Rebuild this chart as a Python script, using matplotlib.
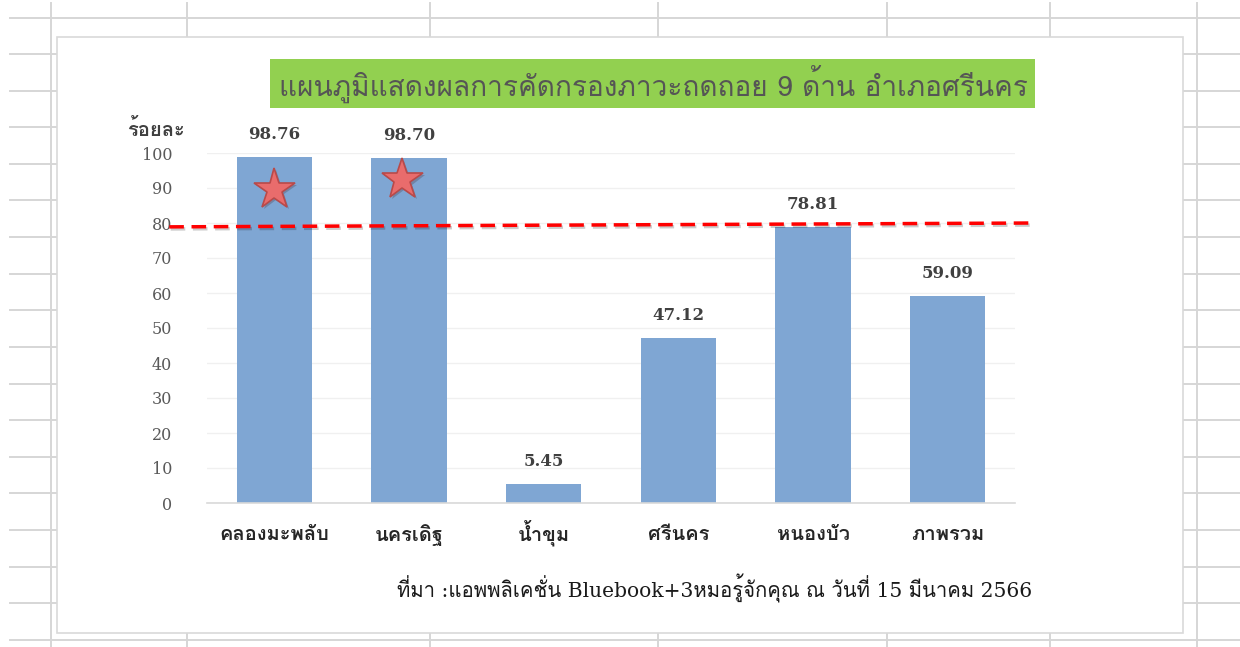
import matplotlib
matplotlib.use("Agg")
import matplotlib.pyplot as plt
from matplotlib import font_manager
from matplotlib.ft2font import FT2Font
from matplotlib.lines import Line2D
from matplotlib.patches import Rectangle
import matplotlib.patheffects as pe

# data
categories = ["คลองมะพลับ", "นครเดิฐ", "น้ำขุม", "ศรีนคร", "หนองบัว", "ภาพรวม"]
values = [98.76, 98.70, 5.45, 47.12, 78.81, 59.09]
yticks = [0, 10, 20, 30, 40, 50, 60, 70, 80, 90, 100]
star_x = [0, 0.95]
star_y = [89.5, 92.3]
threshold_x = [-0.78, 5.65]
threshold_y = [78.9, 80.0]
title = "แผนภูมิแสดงผลการคัดกรองภาวะถดถอย 9 ด้าน อำเภอศรีนคร"
ylabel = "ร้อยละ"
source = "ที่มา :แอพพลิเคชั่น Bluebook+3หมอรู้จักคุณ ณ วันที่ 15 มีนาคม 2566"


def find_thai_fonts():
    names = []
    for f in font_manager.fontManager.ttflist:
        try:
            cmap = FT2Font(f.fname).get_charmap()
        except Exception:
            continue
        if 0x0E01 in cmap and f.name not in names:
            names.append(f.name)
    return names


thai = find_thai_fonts()
thai_sans = thai + ["DejaVu Sans"]
thai_serif = ["DejaVu Serif"] + thai + ["DejaVu Sans"]

W, H = 1240, 647
fig = plt.figure(figsize=(12.4, 6.47), dpi=100)
fig.patch.set_facecolor("white")


def fx(px):
    return px / W


def fy(py):
    return 1 - py / H


# spreadsheet grid behind the chart
grid_col = "#D6D6D6"
for x in [51, 187, 430, 658, 887, 1050, 1197]:
    fig.add_artist(Line2D([fx(x), fx(x)], [fy(3), fy(647)], color=grid_col, lw=1.4, zorder=0))
row = 17.5
while row < H:
    fig.add_artist(Line2D([fx(10), fx(1240)], [fy(row), fy(row)], color=grid_col, lw=1.4, zorder=0))
    row += 36.6

# chart area box
fig.add_artist(Rectangle((fx(57), fy(633)), fx(1183) - fx(57), fy(37) - fy(633),
                         facecolor="white", edgecolor="#D9D9D9", lw=1.2, zorder=1))

ax = fig.add_axes([fx(207), fy(503), fx(1015) - fx(207), fy(153) - fy(503)], zorder=2)
ax.set_facecolor("none")

bars = ax.bar(range(len(values)), values, width=0.56, color="#7FA6D3", zorder=2)
ax.bar_label(bars, labels=[f"{v:.2f}" for v in values], padding=10,
             fontsize=12, fontweight="bold", color="#404040", family="DejaVu Serif")

ax.plot(star_x, star_y, linestyle="none", marker="*", markersize=31,
        markerfacecolor="#E96C6C", markeredgecolor="#B84A4A", markeredgewidth=1.2, zorder=3,
        path_effects=[pe.SimplePatchShadow(offset=(1.5, -1.5), alpha=0.25), pe.Normal()])

ax.plot(threshold_x, threshold_y, color="#FF0000", lw=2.5, linestyle=(0, (4.2, 2.2)),
        clip_on=False, zorder=4,
        path_effects=[pe.SimpleLineShadow(offset=(1, -1.5), alpha=0.2), pe.Normal()])

ax.set_xlim(-0.5, 5.5)
ax.set_ylim(0, 100)
ax.set_yticks(yticks)
ax.set_yticklabels([str(t) for t in yticks], family="DejaVu Serif", fontsize=11.5, color="#595959")
ax.set_xticks(range(len(categories)))
ax.set_xticklabels(categories, family=thai_sans, fontsize=14.5, fontweight="bold",
                   color="#262626", va="baseline")
ax.tick_params(axis="y", length=0, pad=25)
ax.tick_params(axis="x", length=0, pad=27)
ax.grid(axis="y", color="#F0F0F0", lw=1, zorder=0)
ax.set_axisbelow(True)
for s in ["top", "right", "left"]:
    ax.spines[s].set_visible(False)
ax.spines["bottom"].set_color("#D9D9D9")
ax.spines["bottom"].set_linewidth(1.2)

# title box
fig.add_artist(Rectangle((fx(270), fy(108)), fx(1035) - fx(270), fy(59) - fy(108),
                         facecolor="#92D050", edgecolor="none", zorder=3))
fig.text(fx(653), fy(84), title, ha="center", va="center", fontsize=20.2,
         color="#555555", family=thai_sans, zorder=4)

fig.text(fx(156), fy(130), ylabel, ha="center", va="center", fontsize=14.5,
         fontweight="bold", color="#404040", family=thai_sans, zorder=4)

fig.text(fx(1032), fy(588), source, ha="right", va="center", fontsize=14.6,
         color="#1A1A1A", family=thai_serif, zorder=4)

fig.savefig("out.png", dpi=100)
